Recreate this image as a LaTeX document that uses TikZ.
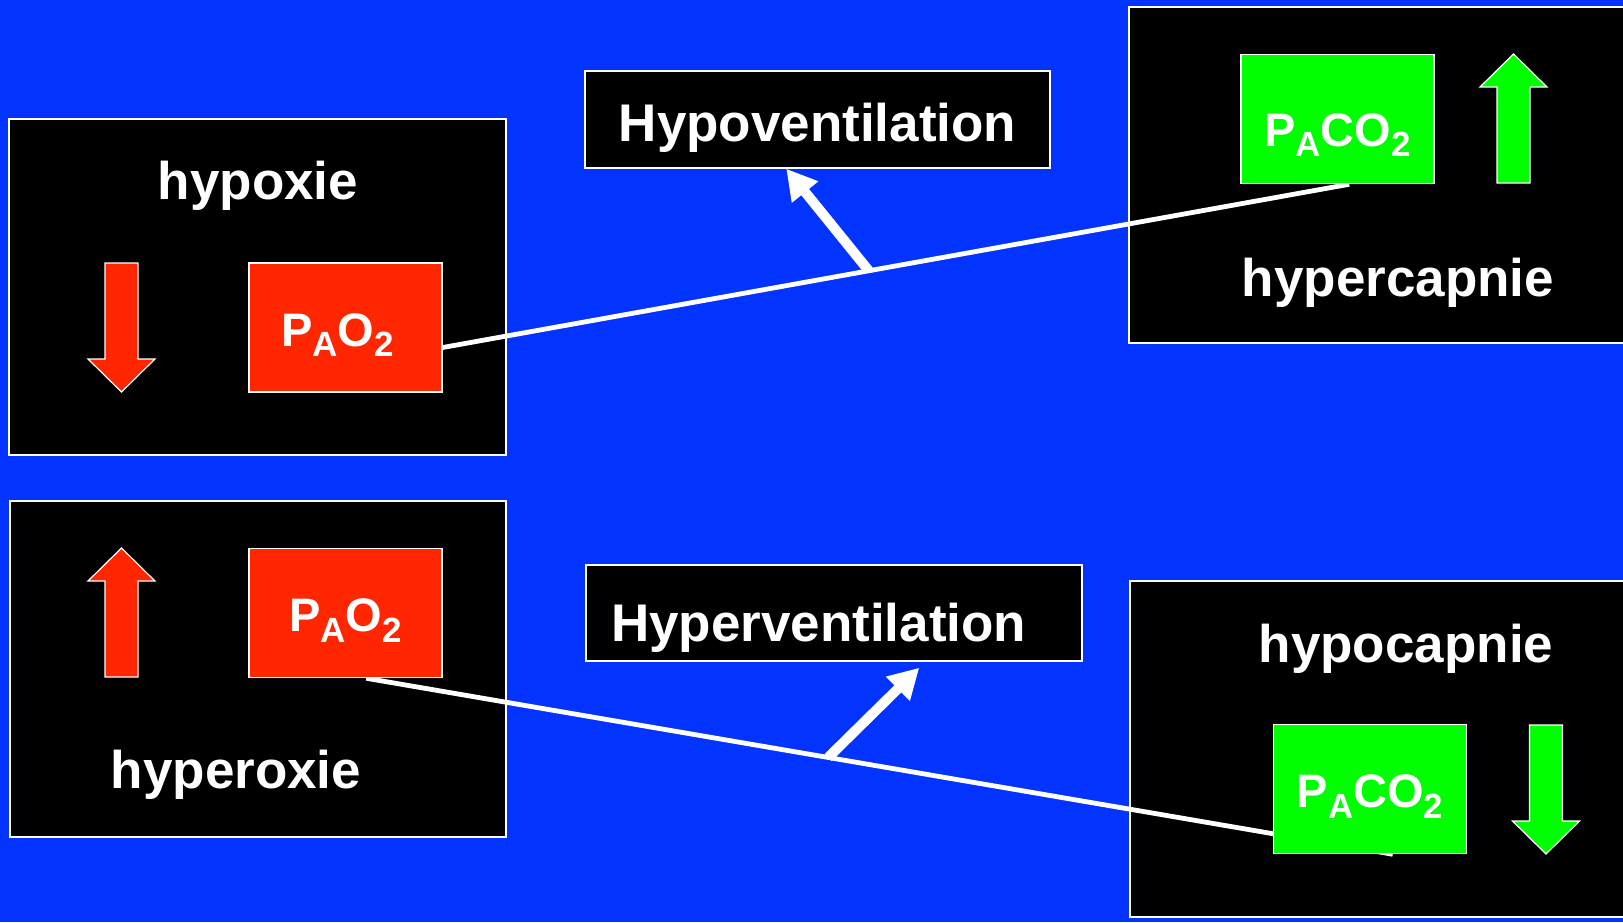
\documentclass[tikz,border=0pt]{standalone}
\usepackage{fontspec}
\setmainfont{Liberation Sans}
\usetikzlibrary{arrows.meta}

\definecolor{slideblue}{RGB}{3,51,255}
\definecolor{gasred}{RGB}{255,38,0}
\definecolor{gasgreen}{RGB}{0,255,0}

\pgfdeclarelayer{bg}
\pgfdeclarelayer{wires}
\pgfsetlayers{bg,wires,main}

\newcommand{\lowsub}[1]{\raisebox{-0.23em}{\fontsize{35}{35}\selectfont #1}}

\tikzset{
  panel/.style={draw=white, line width=1.5pt, fill=black, inner sep=0pt,
    minimum height=336pt},
  title/.style={text=white, font=\fontsize{53}{53}\selectfont\bfseries,
    inner sep=0pt, anchor=base},
  vent/.style={draw=white, line width=1.5pt, fill=black, text=white,
    font=\fontsize{53}{53}\selectfont\bfseries, inner sep=0pt, text depth=0pt},
  gas/.style={draw=white, line width=1.5pt, text=white,
    font=\fontsize{47}{47}\selectfont\bfseries, inner sep=0pt,
    minimum width=193pt, minimum height=129pt, text height=37pt, text depth=0pt},
  wire/.style={white, line width=4.8pt},
  fatarrow/.style={white, line width=10pt, -{Triangle[length=30pt,width=32pt]}},
  pics/trend/.style={code={
    \draw[white, line width=1.2pt, fill=#1] (-16.5,0) -- (-16.5,-96) -- (-33.5,-96)
      -- (0,-129) -- (33.5,-96) -- (16.5,-96) -- (16.5,0) -- cycle;}}
}

\begin{document}
\begin{tikzpicture}[x=1pt, y=-1pt]
  \useasboundingbox (0,0) rectangle (1623,922);

  \begin{pgfonlayer}{bg}
    \fill[slideblue] (0,0) rectangle (1623,922);
    % panels
    \node[panel, minimum width=497pt] (hypoxie) at (257.5,287) {};
    \node[panel, minimum width=496pt] (hyperoxie) at (258,669) {};
    \node[panel, minimum width=497pt] (hypercapnie) at (1377.5,175) {};
    \node[panel, minimum width=496pt] (hypocapnie) at (1378,749) {};
  \end{pgfonlayer}

  % panel titles
  \node[title] (hypoxielbl) at (258,199) {hypoxie};
  \node[title] (hyperoxielbl) at (236,788) {hyperoxie};
  \node[title] (hypercapnielbl) at (1398,296) {hypercapnie};
  \node[title] (hypocapnielbl) at (1406,662) {hypocapnie};

  % partial pressures
  \node[gas, fill=gasred] (pao1) at (345.5,327.5) {\hspace*{-16pt}P\lowsub{A}O\lowsub{2}};
  \node[gas, fill=gasred] (pao2) at (345.5,613) {P\lowsub{A}O\lowsub{2}};
  \node[gas, fill=gasgreen, text height=54pt] (paco1) at (1337.5,119) {P\lowsub{A}CO\lowsub{2}};
  \node[gas, fill=gasgreen] (paco2) at (1370,789) {P\lowsub{A}CO\lowsub{2}};

  % up and down
  \pic[yscale=-1] at (121.5,263) {trend=gasred};
  \pic at (121.5,677) {trend=gasred};
  \pic at (1513.5,183) {trend=gasgreen};
  \pic[yscale=-1] at (1546,725) {trend=gasgreen};

  % ventilation
  \node[vent, minimum width=465pt, minimum height=97pt, text height=43pt]
    (hypovent) at (817.5,119.5) {Hypoventilation};
  \node[vent, inner xsep=25pt, text width=446pt, align=left, minimum height=96pt,
    text height=56pt] (hypervent) at (834,613) {Hyperventilation};

  % connections
  \begin{pgfonlayer}{wires}
    \draw[wire] ([yshift=-20pt]pao1.east) -- coordinate[pos=0.47] (hypotail)
      ([xshift=109pt]paco1.south west);
    \draw[wire] ([xshift=118pt]pao2.south west) -- coordinate[pos=0.45] (hypertail)
      ([xshift=120pt]paco2.south west);
  \end{pgfonlayer}
  \draw[fatarrow] (hypotail) -- ([xshift=202pt]hypovent.south west);
  \draw[fatarrow] (hypertail) -- ([xshift=334pt,yshift=-6pt]hypervent.south west);
\end{tikzpicture}
\end{document}
